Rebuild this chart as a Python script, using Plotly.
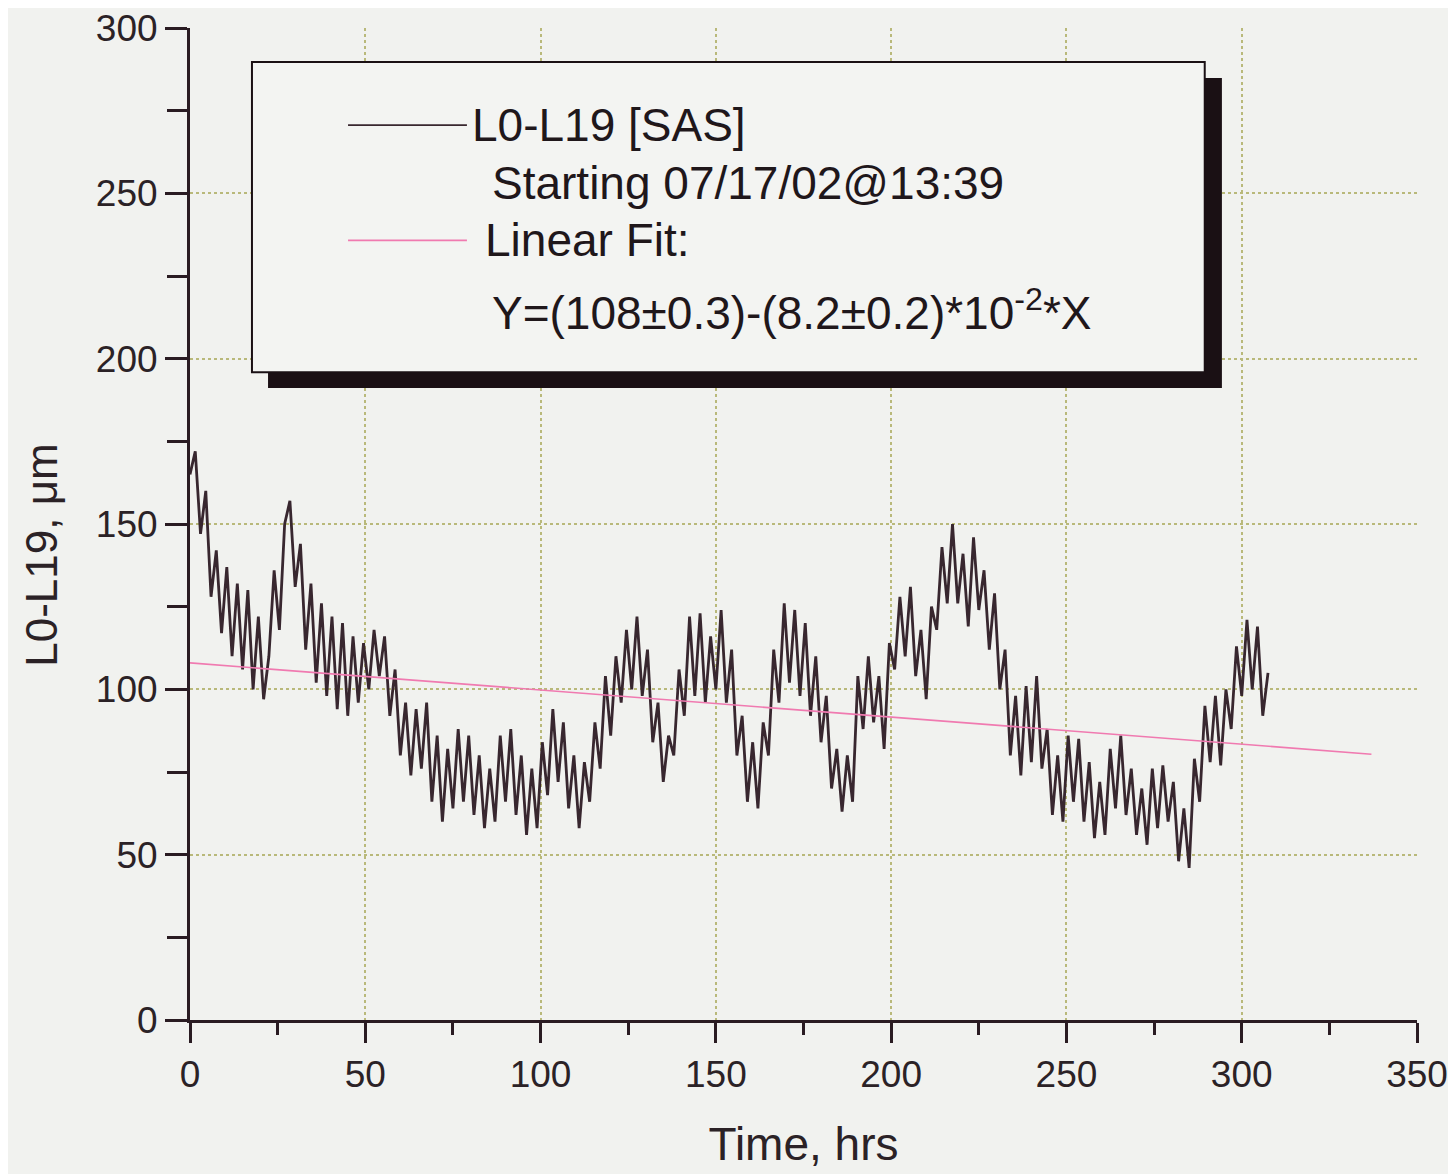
import plotly.graph_objects as go

# sampled every 1.5 hrs, starting at t = 0
step_hrs = 1.5
l0_l19 = [
    165, 172, 147, 160, 128, 142, 117, 137, 110, 132,
    106, 130, 100, 122, 97, 110, 136, 118, 150, 157,
    131, 144, 112, 132, 102, 126, 98, 122, 94, 120,
    92, 116, 96, 114, 100, 118, 104, 116, 92, 106,
    80, 96, 74, 94, 76, 96, 66, 86, 60, 82,
    64, 88, 66, 86, 62, 80, 58, 76, 60, 86,
    66, 88, 62, 80, 56, 76, 58, 84, 68, 94,
    72, 90, 64, 80, 58, 78, 66, 90, 76, 104,
    86, 110, 96, 118, 100, 122, 98, 112, 84, 96,
    72, 86, 80, 106, 92, 122, 98, 123, 96, 116,
    100, 124, 96, 112, 80, 92, 66, 84, 64, 90,
    80, 112, 96, 126, 102, 124, 98, 120, 92, 110,
    84, 98, 70, 82, 63, 80, 66, 104, 88, 110,
    90, 104, 82, 114, 106, 128, 110, 131, 104, 118,
    97, 125, 118, 143, 126, 150, 126, 141, 119, 146,
    124, 136, 112, 129, 100, 112, 80, 98, 74, 101,
    78, 104, 76, 88, 62, 80, 60, 86, 66, 85,
    60, 78, 55, 72, 56, 82, 64, 86, 62, 76,
    56, 70, 53, 76, 58, 77, 60, 72, 48, 64,
    46, 79, 66, 95, 78, 98, 77, 100, 88, 113,
    98, 121, 100, 119, 92, 105,
]
time_hrs = [i * step_hrs for i in range(len(l0_l19))]

# linear fit Y = 108 - 8.2e-2 * X
fit_a = 108.0
fit_b = -0.082
fit_x = [0, 337]
fit_y = [fit_a + fit_b * x for x in fit_x]

dark = '#38272f'
pink = '#f07ab0'
grid = '#b9b97a'

fig = go.Figure()
fig.add_trace(go.Scatter(x=time_hrs, y=l0_l19, mode='lines',
                         line=dict(color=dark, width=2.8),
                         name='L0-L19 [SAS]', showlegend=False))
fig.add_trace(go.Scatter(x=fit_x, y=fit_y, mode='lines',
                         line=dict(color=pink, width=1.6),
                         name='Linear Fit', showlegend=False))

font = 'Liberation Sans, Arial, sans-serif'
axc = '#2a1c22'

# page body has an 8px margin, so margins are shifted by 8
fig.update_layout(
    width=1456, height=1174,
    margin=dict(l=182, r=47, t=20, b=162),
    paper_bgcolor='#f1f2ef', plot_bgcolor='#f1f2ef',
    font=dict(family=font, color='#2b2226'),
    xaxis=dict(range=[0, 350], tickvals=[0, 50, 100, 150, 200, 250, 300, 350],
               ticks='outside', ticklen=20, tickwidth=2.5, tickcolor=axc,
               minor=dict(dtick=25, ticks='outside', ticklen=12, tickwidth=2.5,
                          tickcolor=axc, showgrid=False),
               showline=True, linecolor=axc, linewidth=3,
               showgrid=True, gridcolor=grid, griddash='dot', gridwidth=1.5,
               zeroline=False, tickfont=dict(size=37), ticklabeloverflow='allow',
               automargin=False,
               title=dict(text='Time, hrs', font=dict(size=46), standoff=34)),
    yaxis=dict(range=[0, 300], tickvals=[0, 50, 100, 150, 200, 250, 300],
               ticks='outside', ticklen=22, tickwidth=2.5, tickcolor=axc,
               minor=dict(dtick=25, ticks='outside', ticklen=20, tickwidth=2.5,
                          tickcolor=axc, showgrid=False),
               showline=True, linecolor=axc, linewidth=3,
               showgrid=True, gridcolor=grid, griddash='dot', gridwidth=1.5,
               zeroline=False, tickfont=dict(size=37), ticklabeloverflow='allow',
               automargin=False),
)

# y axis title, sitting a little below the middle as in the original
fig.add_annotation(text='L0-L19, μm', xref='paper', yref='paper',
                   x=-0.1206, y=0.468, textangle=-90, showarrow=False,
                   xanchor='center', yanchor='middle',
                   font=dict(size=44, family=font, color='#2b2226'))

# legend box with shadow
fig.add_shape(type='rect', xref='paper', yref='paper',
              x0=0.0636, x1=0.841, y0=0.637, y1=0.9496,
              fillcolor='#1a1014', line=dict(width=0), layer='above')
fig.add_shape(type='rect', xref='paper', yref='paper',
              x0=0.0505, x1=0.827, y0=0.653, y1=0.9657,
              fillcolor='#f3f4f2', line=dict(color='#1a1014', width=2), layer='above')
fig.add_shape(type='line', xref='paper', yref='paper',
              x0=0.1288, x1=0.2257, y0=0.902, y1=0.902,
              line=dict(color=dark, width=1.8), layer='above')
fig.add_shape(type='line', xref='paper', yref='paper',
              x0=0.1288, x1=0.2257, y0=0.786, y1=0.786,
              line=dict(color=pink, width=1.8), layer='above')

legend_text = [
    ('L0-L19 [SAS]', 0.228, 0.902),
    ('Starting 07/17/02@13:39', 0.2445, 0.8438),
    ('Linear Fit:', 0.2388, 0.786),
    ('Y=(108±0.3)-(8.2±0.2)*10<sup>-2</sup>*X', 0.2445, 0.7157),
]
for txt, x, y in legend_text:
    fig.add_annotation(text=txt, xref='paper', yref='paper', x=x, y=y,
                       xanchor='left', yanchor='middle', showarrow=False,
                       font=dict(size=46, family=font, color='#1f171b'))

fig.write_html('out.html')
